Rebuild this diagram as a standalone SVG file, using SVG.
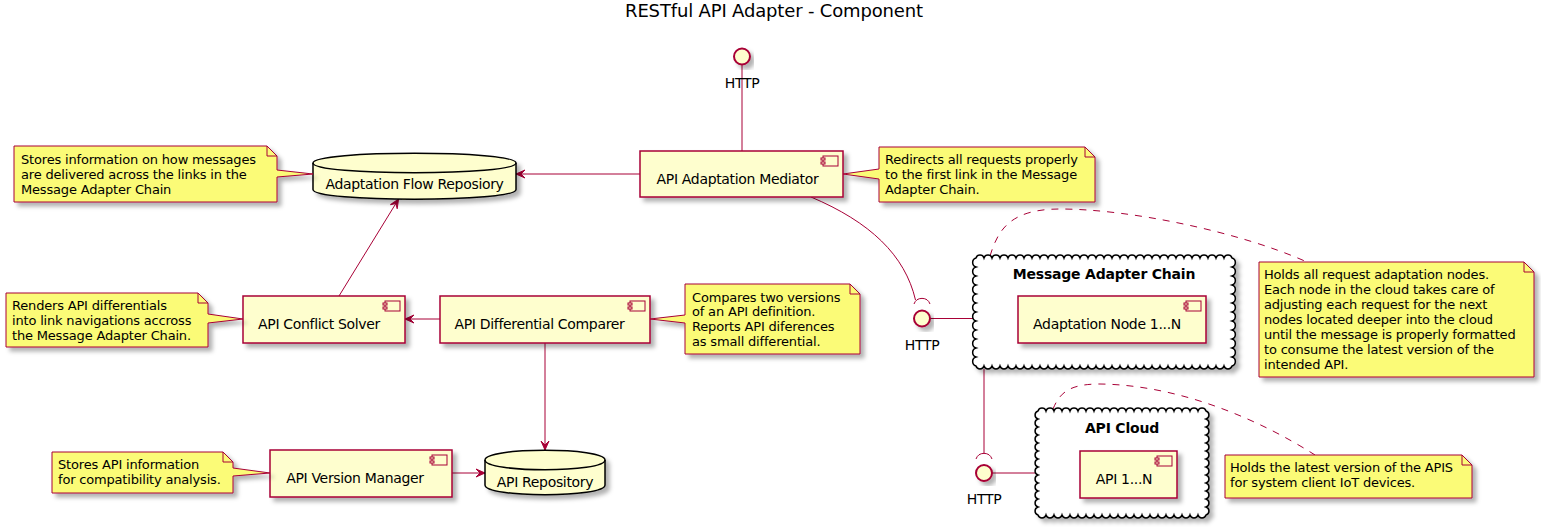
<svg xmlns="http://www.w3.org/2000/svg" width="1541" height="529" viewBox="0 0 1541 529">
<style>
text{font-family:"DejaVu Sans","Liberation Sans",sans-serif;fill:#000}
.t{font-size:18px;letter-spacing:-0.16px}
.c{font-size:14px;letter-spacing:-0.33px}
.n{font-size:13px;letter-spacing:-0.18px}
.b{font-size:14px;font-weight:bold;letter-spacing:-0.2px}
.comp{fill:#FEFECE;stroke:#A80036;stroke-width:1.5}
.note{fill:#FBFB77;stroke:#A80036;stroke-width:1}
.fold{fill:none;stroke:#A80036;stroke-width:1}
.db{fill:#FEFECE;stroke:#000;stroke-width:1.5}
.dbi{fill:none;stroke:#000;stroke-width:1.5}
.cloud{fill:#FFFFFF;stroke:#000;stroke-width:1.5}
.ifc{fill:#FEFECE;stroke:#A80036;stroke-width:2}
.ln{fill:none;stroke:#A80036;stroke-width:1}
.dash{fill:none;stroke:#A80036;stroke-width:1;stroke-dasharray:7,7}
.icon rect{fill:#FEFECE;stroke:#A80036;stroke-width:1}
</style>
<defs>
<filter id="sh" x="-10%" y="-10%" width="130%" height="140%">
<feDropShadow dx="4" dy="4" stdDeviation="2.2" flood-color="#000" flood-opacity="0.3"/>
</filter>
<marker id="ar" markerUnits="userSpaceOnUse" markerWidth="12" markerHeight="12" viewBox="0 0 12 12" refX="10" refY="6" orient="auto">
<path d="M10,6 L1,2 L5,6 L1,10 Z" fill="#A80036" stroke="#A80036" stroke-width="1"/>
</marker>
<g id="icon" class="icon"><rect x="0" y="0" width="15" height="10"/><rect x="-2" y="2" width="4" height="2"/><rect x="-2" y="6" width="4" height="2"/></g>
</defs>

<text class="t" x="774" y="17" text-anchor="middle">RESTful API Adapter - Component</text>

<g id="connectors">
<line class="ln" x1="742" y1="64.5" x2="742" y2="151"/>
<line class="ln" x1="640" y1="174" x2="516" y2="174" marker-end="url(#ar)"/>
<line class="ln" x1="339" y1="296" x2="398.5" y2="199.2" marker-end="url(#ar)"/>
<line class="ln" x1="440" y1="319" x2="405" y2="319" marker-end="url(#ar)"/>
<line class="ln" x1="545" y1="343" x2="545" y2="450" marker-end="url(#ar)"/>
<line class="ln" x1="452" y1="473" x2="485" y2="473" marker-end="url(#ar)"/>
<path class="ln" d="M811,197 C870,222 905,255 915.5,300"/>
<path class="ln" d="M914,304 A8.5,8.5 0 0 1 930,304"/>
<line class="ln" x1="930" y1="318.5" x2="973" y2="318.5"/>
<line class="ln" x1="984" y1="369" x2="984" y2="453.4"/>
<path class="ln" d="M976,459 A8.5,8.5 0 0 1 992,459"/>
<line class="ln" x1="992" y1="473" x2="1035" y2="473"/>
<path class="dash" d="M990,256 C998,230 1010,209 1060,209 C1130,209 1240,232 1307,262"/>
<path class="dash" d="M1053,409 C1060,392 1070,384 1100,384 C1180,385 1260,420 1315,455"/>
</g>

<g id="http-top">
<circle class="ifc" cx="742" cy="56.5" r="8" filter="url(#sh)"/>
<text class="c" x="742" y="88" text-anchor="middle">HTTP</text>
</g>

<g id="mediator">
<rect class="comp" x="640" y="151" width="203" height="46" filter="url(#sh)"/>
<use href="#icon" x="823" y="156"/>
<text class="c" x="737.5" y="184" text-anchor="middle">API Adaptation Mediator</text>
</g>

<g id="note-mediator">
<path class="note" d="M879,147 L1085,147 L1095,157 L1095,202 L879,202 L879,179 L843,174 L879,169 Z" filter="url(#sh)"/>
<path class="fold" d="M1085,147 L1085,157 L1095,157"/>
<text class="n" x="885" y="164">Redirects all requests properly</text>
<text class="n" x="885" y="179">to the first link in the Message</text>
<text class="n" x="885" y="194">Adapter Chain.</text>
</g>

<g id="flow-repository">
<path class="db" d="M313,163 C313,150 516,150 516,163 L516,189.5 C516,202.5 313,202.5 313,189.5 Z" filter="url(#sh)"/>
<path class="dbi" d="M313,163 C313,176 516,176 516,163"/>
<text class="c" x="414.5" y="188.5" text-anchor="middle">Adaptation Flow Reposiory</text>
</g>

<g id="note-flow">
<path class="note" d="M14,146 L267,146 L277,156 L277,170 L313,174 L277,177 L277,202 L14,202 Z" filter="url(#sh)"/>
<path class="fold" d="M267,146 L267,156 L277,156"/>
<text class="n" x="21" y="164">Stores information on how messages</text>
<text class="n" x="21" y="179">are delivered across the links in the</text>
<text class="n" x="21" y="194">Message Adapter Chain</text>
</g>

<g id="conflict-solver">
<rect class="comp" x="243" y="296" width="162" height="47" filter="url(#sh)"/>
<use href="#icon" x="385" y="301"/>
<text class="c" x="319" y="329" text-anchor="middle">API Conflict Solver</text>
</g>

<g id="note-conflict">
<path class="note" d="M6,293 L198,293 L208,303 L208,314 L243,319 L208,323 L208,347 L6,347 Z" filter="url(#sh)"/>
<path class="fold" d="M198,293 L198,303 L208,303"/>
<text class="n" x="12" y="310">Renders API differentials</text>
<text class="n" x="12" y="325">into link navigations accross</text>
<text class="n" x="12" y="339.5">the Message Adapter Chain.</text>
</g>

<g id="comparer">
<rect class="comp" x="440" y="296" width="210" height="47" filter="url(#sh)"/>
<use href="#icon" x="630" y="301"/>
<text class="c" x="539.5" y="329" text-anchor="middle">API Differential Comparer</text>
</g>

<g id="note-comparer">
<path class="note" d="M685,284 L850,284 L860,294 L860,354 L685,354 L685,323 L650,319 L685,315 Z" filter="url(#sh)"/>
<path class="fold" d="M850,284 L850,294 L860,294"/>
<text class="n" x="692" y="301.5">Compares two versions</text>
<text class="n" x="692" y="316.3">of an API definition.</text>
<text class="n" x="692" y="331.1">Reports API diferences</text>
<text class="n" x="692" y="345.9">as small differential.</text>
</g>

<g id="http-chain">
<circle class="ifc" cx="922" cy="318.5" r="8" filter="url(#sh)"/>
<text class="c" x="922" y="349.5" text-anchor="middle">HTTP</text>
</g>

<g id="message-adapter-chain">
<path class="cloud" filter="url(#sh)" d="M976,258 a4.2,4.2 0 0 1 8,0 a4.2,4.2 0 0 1 8,0 a4.2,4.2 0 0 1 8,0 a4.2,4.2 0 0 1 8,0 a4.2,4.2 0 0 1 8,0 a4.2,4.2 0 0 1 8,0 a4.2,4.2 0 0 1 8,0 a4.2,4.2 0 0 1 8,0 a4.2,4.2 0 0 1 8,0 a4.2,4.2 0 0 1 8,0 a4.2,4.2 0 0 1 8,0 a4.2,4.2 0 0 1 8,0 a4.2,4.2 0 0 1 8,0 a4.2,4.2 0 0 1 8,0 a4.2,4.2 0 0 1 8,0 a4.2,4.2 0 0 1 8,0 a4.2,4.2 0 0 1 8,0 a4.2,4.2 0 0 1 8,0 a4.2,4.2 0 0 1 8,0 a4.2,4.2 0 0 1 8,0 a4.2,4.2 0 0 1 8,0 a4.2,4.2 0 0 1 8,0 a4.2,4.2 0 0 1 8,0 a4.2,4.2 0 0 1 8,0 a4.2,4.2 0 0 1 8,0 a4.2,4.2 0 0 1 8,0 a4.2,4.2 0 0 1 8,0 a4.2,4.2 0 0 1 8,0 a4.2,4.2 0 0 1 8,0 a4.2,4.2 0 0 1 8,0 a4.2,4.2 0 0 1 8,0 a4.2,4.2 0 0 1 8,0 a4.7,4.7 0 0 1 0,9 a4.7,4.7 0 0 1 0,9 a4.7,4.7 0 0 1 0,9 a4.7,4.7 0 0 1 0,9 a4.7,4.7 0 0 1 0,9 a4.7,4.7 0 0 1 0,9 a4.7,4.7 0 0 1 0,9 a4.7,4.7 0 0 1 0,9 a4.7,4.7 0 0 1 0,9 a4.7,4.7 0 0 1 0,9 a4.7,4.7 0 0 1 0,9 a4.7,4.7 0 0 1 0,9 a4.2,4.2 0 0 1 -8,0 a4.2,4.2 0 0 1 -8,0 a4.2,4.2 0 0 1 -8,0 a4.2,4.2 0 0 1 -8,0 a4.2,4.2 0 0 1 -8,0 a4.2,4.2 0 0 1 -8,0 a4.2,4.2 0 0 1 -8,0 a4.2,4.2 0 0 1 -8,0 a4.2,4.2 0 0 1 -8,0 a4.2,4.2 0 0 1 -8,0 a4.2,4.2 0 0 1 -8,0 a4.2,4.2 0 0 1 -8,0 a4.2,4.2 0 0 1 -8,0 a4.2,4.2 0 0 1 -8,0 a4.2,4.2 0 0 1 -8,0 a4.2,4.2 0 0 1 -8,0 a4.2,4.2 0 0 1 -8,0 a4.2,4.2 0 0 1 -8,0 a4.2,4.2 0 0 1 -8,0 a4.2,4.2 0 0 1 -8,0 a4.2,4.2 0 0 1 -8,0 a4.2,4.2 0 0 1 -8,0 a4.2,4.2 0 0 1 -8,0 a4.2,4.2 0 0 1 -8,0 a4.2,4.2 0 0 1 -8,0 a4.2,4.2 0 0 1 -8,0 a4.2,4.2 0 0 1 -8,0 a4.2,4.2 0 0 1 -8,0 a4.2,4.2 0 0 1 -8,0 a4.2,4.2 0 0 1 -8,0 a4.2,4.2 0 0 1 -8,0 a4.2,4.2 0 0 1 -8,0 a4.7,4.7 0 0 1 0,-9 a4.7,4.7 0 0 1 0,-9 a4.7,4.7 0 0 1 0,-9 a4.7,4.7 0 0 1 0,-9 a4.7,4.7 0 0 1 0,-9 a4.7,4.7 0 0 1 0,-9 a4.7,4.7 0 0 1 0,-9 a4.7,4.7 0 0 1 0,-9 a4.7,4.7 0 0 1 0,-9 a4.7,4.7 0 0 1 0,-9 a4.7,4.7 0 0 1 0,-9 a4.7,4.7 0 0 1 0,-9 Z"/>
<text class="b" x="1104" y="279" text-anchor="middle">Message Adapter Chain</text>
</g>

<g id="adaptation-node">
<rect class="comp" x="1018" y="296" width="188" height="47" filter="url(#sh)"/>
<use href="#icon" x="1186" y="301"/>
<text class="c" x="1107" y="329" text-anchor="middle">Adaptation Node 1...N</text>
</g>

<g id="note-chain">
<path class="note" d="M1259,262 L1524,262 L1534,272 L1534,377 L1259,377 Z" filter="url(#sh)"/>
<path class="fold" d="M1524,262 L1524,272 L1534,272"/>
<text class="n" x="1264" y="279">Holds all request adaptation nodes.</text>
<text class="n" x="1264" y="294">Each node in the cloud takes care of</text>
<text class="n" x="1264" y="309">adjusting each request for the next</text>
<text class="n" x="1264" y="324">nodes located deeper into the cloud</text>
<text class="n" x="1264" y="339">until the message is properly formatted</text>
<text class="n" x="1264" y="354">to consume the latest version of the</text>
<text class="n" x="1264" y="368.5">intended API.</text>
</g>

<g id="http-cloud">
<circle class="ifc" cx="984" cy="473" r="8" filter="url(#sh)"/>
<text class="c" x="984" y="504" text-anchor="middle">HTTP</text>
</g>

<g id="api-cloud">
<path class="cloud" filter="url(#sh)" d="M1038,411 a4.2,4.2 0 0 1 8,0 a4.2,4.2 0 0 1 8,0 a4.2,4.2 0 0 1 8,0 a4.2,4.2 0 0 1 8,0 a4.2,4.2 0 0 1 8,0 a4.2,4.2 0 0 1 8,0 a4.2,4.2 0 0 1 8,0 a4.2,4.2 0 0 1 8,0 a4.2,4.2 0 0 1 8,0 a4.2,4.2 0 0 1 8,0 a4.2,4.2 0 0 1 8,0 a4.2,4.2 0 0 1 8,0 a4.2,4.2 0 0 1 8,0 a4.2,4.2 0 0 1 8,0 a4.2,4.2 0 0 1 8,0 a4.2,4.2 0 0 1 8,0 a4.2,4.2 0 0 1 8,0 a4.2,4.2 0 0 1 8,0 a4.2,4.2 0 0 1 8,0 a4.2,4.2 0 0 1 8,0 a4.2,4.2 0 0 1 8,0 a4.2,4.2 0 0 1 0,8 a4.2,4.2 0 0 1 0,8 a4.2,4.2 0 0 1 0,8 a4.2,4.2 0 0 1 0,8 a4.2,4.2 0 0 1 0,8 a4.2,4.2 0 0 1 0,8 a4.2,4.2 0 0 1 0,8 a4.2,4.2 0 0 1 0,8 a4.2,4.2 0 0 1 0,8 a4.2,4.2 0 0 1 0,8 a4.2,4.2 0 0 1 0,8 a4.2,4.2 0 0 1 0,8 a4.2,4.2 0 0 1 0,8 a4.2,4.2 0 0 1 -8,0 a4.2,4.2 0 0 1 -8,0 a4.2,4.2 0 0 1 -8,0 a4.2,4.2 0 0 1 -8,0 a4.2,4.2 0 0 1 -8,0 a4.2,4.2 0 0 1 -8,0 a4.2,4.2 0 0 1 -8,0 a4.2,4.2 0 0 1 -8,0 a4.2,4.2 0 0 1 -8,0 a4.2,4.2 0 0 1 -8,0 a4.2,4.2 0 0 1 -8,0 a4.2,4.2 0 0 1 -8,0 a4.2,4.2 0 0 1 -8,0 a4.2,4.2 0 0 1 -8,0 a4.2,4.2 0 0 1 -8,0 a4.2,4.2 0 0 1 -8,0 a4.2,4.2 0 0 1 -8,0 a4.2,4.2 0 0 1 -8,0 a4.2,4.2 0 0 1 -8,0 a4.2,4.2 0 0 1 -8,0 a4.2,4.2 0 0 1 -8,0 a4.2,4.2 0 0 1 0,-8 a4.2,4.2 0 0 1 0,-8 a4.2,4.2 0 0 1 0,-8 a4.2,4.2 0 0 1 0,-8 a4.2,4.2 0 0 1 0,-8 a4.2,4.2 0 0 1 0,-8 a4.2,4.2 0 0 1 0,-8 a4.2,4.2 0 0 1 0,-8 a4.2,4.2 0 0 1 0,-8 a4.2,4.2 0 0 1 0,-8 a4.2,4.2 0 0 1 0,-8 a4.2,4.2 0 0 1 0,-8 a4.2,4.2 0 0 1 0,-8 Z"/>
<text class="b" x="1122" y="433" text-anchor="middle">API Cloud</text>
</g>

<g id="api-1-n">
<rect class="comp" x="1080" y="451" width="97" height="47" filter="url(#sh)"/>
<use href="#icon" x="1157" y="456"/>
<text class="c" x="1124" y="484" text-anchor="middle">API 1...N</text>
</g>

<g id="note-api-cloud">
<path class="note" d="M1225,455 L1462,455 L1472,465 L1472,498 L1225,498 Z" filter="url(#sh)"/>
<path class="fold" d="M1462,455 L1462,465 L1472,465"/>
<text class="n" x="1230" y="472">Holds the latest version of the APIS</text>
<text class="n" x="1230" y="487">for system client IoT devices.</text>
</g>

<g id="version-manager">
<rect class="comp" x="270" y="450" width="182" height="47" filter="url(#sh)"/>
<use href="#icon" x="432" y="455"/>
<text class="c" x="355" y="483" text-anchor="middle">API Version Manager</text>
</g>

<g id="note-version">
<path class="note" d="M52,452 L223,452 L233,462 L233,468 L270,473 L233,476 L233,493 L52,493 Z" filter="url(#sh)"/>
<path class="fold" d="M223,452 L223,462 L233,462"/>
<text class="n" x="58" y="469">Stores API information</text>
<text class="n" x="58" y="484">for compatibility analysis.</text>
</g>

<g id="api-repository">
<path class="db" d="M485,460 C485,447 605,447 605,460 L605,485 C605,498 485,498 485,485 Z" filter="url(#sh)"/>
<path class="dbi" d="M485,460 C485,473 605,473 605,460"/>
<text class="c" x="545" y="486.5" text-anchor="middle">API Repository</text>
</g>
</svg>
